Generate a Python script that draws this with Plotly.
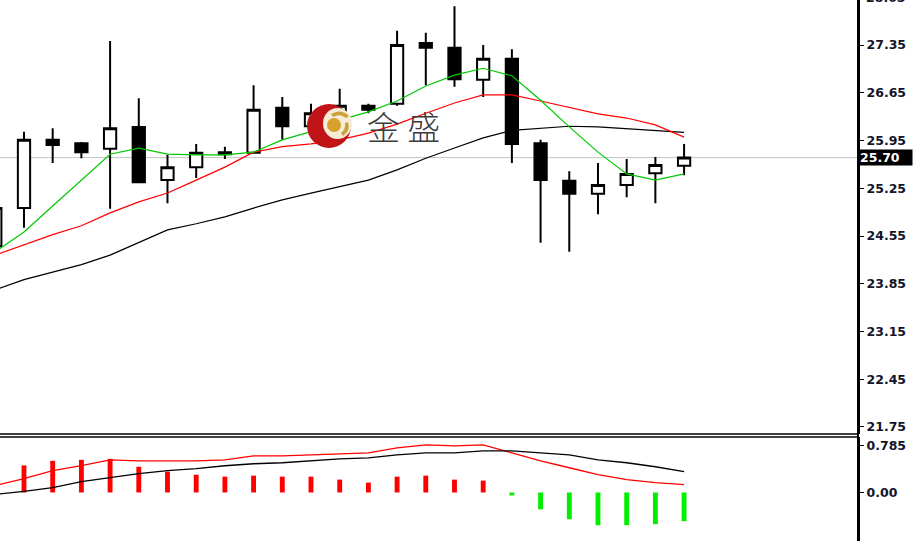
import plotly.graph_objects as go

# ---------------- data ----------------
bar_index = list(range(25))

open_ = [24.40, 24.96, 25.96, 25.91, 25.83, 26.15, 25.37, 25.56, 25.78, 25.77,
         26.43, 26.16, 26.35, 26.46, 26.49, 27.38, 27.31, 26.84, 27.15, 25.91,
         25.36, 25.17, 25.30, 25.47, 25.58]
high = [25.00, 26.08, 26.13, 25.93, 27.41, 26.57, 25.74, 25.90, 25.86, 26.76,
        26.59, 26.49, 26.71, 26.49, 27.56, 27.53, 27.92, 27.35, 27.29, 25.96,
        25.50, 25.62, 25.68, 25.71, 25.90]
low = [24.30, 24.67, 25.62, 25.69, 24.95, 25.34, 25.03, 25.40, 25.68, 25.76,
       25.96, 26.13, 26.28, 26.35, 26.46, 26.76, 26.74, 26.59, 25.62, 24.45,
       24.32, 24.87, 25.12, 25.03, 25.44]
close = [24.96, 25.96, 25.885, 25.78, 26.13, 25.34, 25.56, 25.77, 25.75, 26.40,
         26.16, 26.35, 26.46, 26.40, 27.35, 27.31, 26.85, 27.15, 25.90, 25.37,
         25.17, 25.30, 25.46, 25.59, 25.70]

ma_fast = [24.32, 24.61, 24.99, 25.37, 25.75, 25.84, 25.75, 25.74, 25.74, 25.78,
           25.96, 26.08, 26.25, 26.37, 26.53, 26.75, 26.91, 27.01, 26.90, 26.54,
           26.15, 25.78, 25.46, 25.37, 25.46]
ma_mid = [24.27, 24.42, 24.57, 24.70, 24.89, 25.05, 25.18, 25.37, 25.56, 25.78,
          25.86, 25.90, 25.96, 26.06, 26.19, 26.35, 26.50, 26.62, 26.62, 26.53,
          26.44, 26.34, 26.28, 26.18, 26.00]
ma_slow = [23.76, 23.91, 24.02, 24.13, 24.27, 24.45, 24.64, 24.73, 24.83, 24.96,
           25.08, 25.18, 25.27, 25.37, 25.52, 25.69, 25.84, 25.99, 26.10, 26.13,
           26.16, 26.15, 26.12, 26.09, 26.07]

macd_hist = [None, 0.456, 0.534, 0.551, 0.568, 0.434, 0.351, 0.300, 0.267, 0.284,
             0.267, 0.267, 0.217, 0.167, 0.267, 0.284, 0.217, 0.200, -0.05, -0.284,
             -0.451, -0.551, -0.551, -0.534, -0.484]
macd_red = [0.117, 0.234, 0.367, 0.451, 0.551, 0.534, 0.534, 0.534, 0.551, 0.618,
            0.618, 0.634, 0.651, 0.668, 0.751, 0.801, 0.785, 0.801, 0.668, 0.534,
            0.417, 0.300, 0.217, 0.167, 0.134]
macd_black = [-0.033, 0.017, 0.083, 0.184, 0.250, 0.317, 0.367, 0.401, 0.451, 0.484,
              0.501, 0.534, 0.568, 0.584, 0.634, 0.668, 0.668, 0.701, 0.701, 0.668,
              0.634, 0.551, 0.501, 0.434, 0.351]

price_ticks = [21.75, 22.45, 23.15, 23.85, 24.55, 25.25, 25.95, 26.65, 27.35]
price_top_label = "28.05"
macd_ticks = [0.785, 0.0]
macd_tick_text = ["0.785", "0.00"]
last_price = 25.70
watermark = "金 盛"

# ---------------- figure ----------------
fig = go.Figure()

fig.add_trace(go.Candlestick(
    x=bar_index, open=open_, high=high, low=low, close=close,
    increasing=dict(line=dict(color="black", width=2), fillcolor="white"),
    decreasing=dict(line=dict(color="black", width=2), fillcolor="black"),
    whiskerwidth=0, xaxis="x", yaxis="y", showlegend=False, hoverinfo="skip"))

for vals, col in [(ma_slow, "#000000"), (ma_mid, "#ff0000"), (ma_fast, "#00c800")]:
    fig.add_trace(go.Scatter(x=bar_index, y=vals, mode="lines",
                             line=dict(color=col, width=1.2),
                             xaxis="x", yaxis="y", showlegend=False, hoverinfo="skip"))

hist_colors = ["#ff0000" if (v is not None and v >= 0) else "#00ee00" for v in macd_hist]
fig.add_trace(go.Bar(x=bar_index, y=macd_hist, width=0.17, marker=dict(color=hist_colors, line=dict(width=0)),
                     xaxis="x", yaxis="y2", showlegend=False, hoverinfo="skip"))
fig.add_trace(go.Scatter(x=bar_index, y=macd_red, mode="lines", line=dict(color="#ff0000", width=1.3),
                         xaxis="x", yaxis="y2", showlegend=False, hoverinfo="skip"))
fig.add_trace(go.Scatter(x=bar_index, y=macd_black, mode="lines", line=dict(color="#000000", width=1.3),
                         xaxis="x", yaxis="y2", showlegend=False, hoverinfo="skip"))

axis_font = dict(family="DejaVu Sans", size=12.5, color="#141428", weight="bold")

fig.update_layout(
    width=913, height=541,
    margin=dict(l=0, r=55, t=0, b=0),
    paper_bgcolor="white", plot_bgcolor="white",
    boxgap=0.39,
    xaxis=dict(domain=[0, 1], range=[0.164, 30.06], visible=False,
               rangeslider=dict(visible=False), fixedrange=True),
    yaxis=dict(domain=[0.1978, 1], range=[21.647, 28.011], side="right",
               tickvals=price_ticks, ticktext=[f"{v:.2f}" for v in price_ticks],
               ticks="outside", ticklen=4, tickwidth=1, tickcolor="black",
               showline=True, linecolor="black", linewidth=2, mirror=False,
               showgrid=False, zeroline=False, tickfont=axis_font, anchor="x"),
    yaxis2=dict(domain=[0, 0.1922], range=[-0.818, 0.935], side="right",
                tickvals=macd_ticks, ticktext=macd_tick_text,
                ticks="outside", ticklen=4, tickwidth=1, tickcolor="black",
                showline=True, linecolor="black", linewidth=2,
                showgrid=False, zeroline=False, tickfont=axis_font, anchor="x"),
    showlegend=False,
)

shapes = [
    dict(type="line", xref="x domain", x0=0, x1=1, yref="y", y0=last_price, y1=last_price,
         line=dict(color="#c4c4c4", width=1), layer="below"),
    dict(type="line", xref="x domain", x0=0, x1=1, yref="y domain", y0=0, y1=0,
         line=dict(color="black", width=1.5)),
    dict(type="line", xref="x domain", x0=0, x1=1, yref="y2 domain", y0=1, y1=1,
         line=dict(color="black", width=1.5)),
    dict(type="line", xref="paper", x0=1, x1=1, yref="paper", y0=0, y1=1,
         line=dict(color="black", width=2)),
]

lx, ly = 329 / 858, 1 - 126 / 541
shapes += [
    dict(type="circle", xref="paper", yref="paper", xsizemode="pixel", ysizemode="pixel",
         xanchor=lx, yanchor=ly, x0=-22, x1=22, y0=-22, y1=22,
         fillcolor="#c01418", line=dict(width=0), layer="above"),
    dict(type="circle", xref="paper", yref="paper", xsizemode="pixel", ysizemode="pixel",
         xanchor=lx, yanchor=ly, x0=-6, x1=23, y0=-13, y1=18,
         fillcolor="#f6ecd6", line=dict(width=0), layer="above"),
    dict(type="circle", xref="paper", yref="paper", xsizemode="pixel", ysizemode="pixel",
         xanchor=lx, yanchor=ly, x0=-2, x1=12, y0=-6, y1=8,
         fillcolor="#d4a12a", line=dict(width=0), layer="above"),
    dict(type="path", xref="paper", yref="paper", xsizemode="pixel", ysizemode="pixel",
         xanchor=lx, yanchor=ly,
         path="M 2 12 Q 12 18 20 10 L 17 8 Q 11 13 4 9 Z",
         fillcolor="#c9a23c", line=dict(width=0), layer="above"),
    dict(type="path", xref="paper", yref="paper", xsizemode="pixel", ysizemode="pixel",
         xanchor=lx, yanchor=ly,
         path="M 14 -10 Q 22 -4 19 4 L 16 3 Q 17 -3 12 -7 Z",
         fillcolor="#c9a23c", line=dict(width=0), layer="above"),
]
fig.update_layout(shapes=shapes)

annotations = [
    dict(xref="paper", yref="paper", x=403 / 858, y=1 - 126 / 541, text=watermark,
         showarrow=False, font=dict(family="Noto Sans CJK SC", size=33, color="#3c3c3c", weight=300),
         xanchor="center", yanchor="middle"),
    dict(xref="paper", yref="y", x=1, y=last_price, text=f"{last_price:.2f}", showarrow=False,
         xanchor="left", yanchor="middle", xshift=1, bgcolor="black", width=52, align="left",
         borderpad=0, font=dict(family="DejaVu Sans", size=12.5, color="white", weight="bold")),
    dict(xref="paper", yref="paper", x=1, y=1, text=price_top_label,
         showarrow=False, xanchor="left", yanchor="middle", xshift=6, yshift=3, font=axis_font),
]
fig.update_layout(annotations=annotations)

fig.write_html("out.html", config={"displayModeBar": False},
               post_script="document.body.style.margin='0';document.body.style.padding='0';")
